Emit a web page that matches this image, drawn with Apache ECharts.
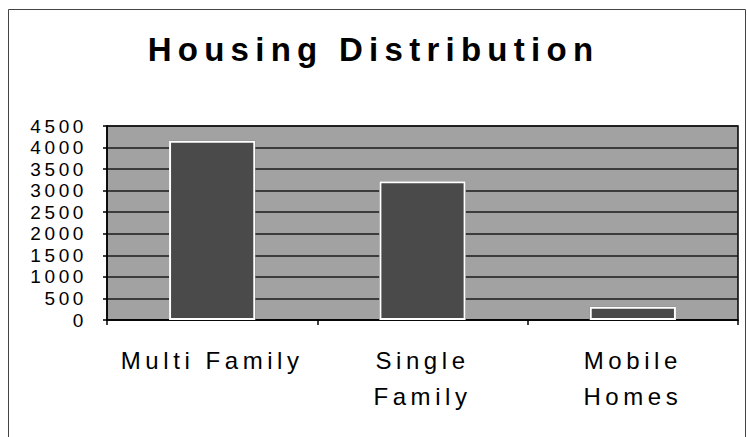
<!DOCTYPE html>
<html>
<head>
<meta charset="utf-8">
<script src="https://cdn.jsdelivr.net/npm/echarts@6/dist/echarts.min.js"></script>
<style>
  html, body { margin: 0; padding: 0; background: #fff; }
  #chart { width: 747px; height: 437px; }
  /* the source chart uses widely spaced lettering everywhere */
  #chart text { letter-spacing: 0.19em; }
</style>
</head>
<body>
<div id="chart"></div>
<script>
const categories = ["Multi Family", "Single\nFamily", "Mobile\nHomes"];
const housingCounts = [4160, 3220, 310];
const yTicks = { min: 0, max: 4500, interval: 500 };

const fontFamily = "'Liberation Sans', Arial, sans-serif";

const chart = echarts.init(document.getElementById("chart"), null, { renderer: "svg" });

chart.setOption({
  backgroundColor: "#ffffff",
  animation: false,
  title: {
    text: "Housing Distribution",
    left: "center",
    top: 28,
    textStyle: {
      fontFamily,
      fontSize: 33,
      fontWeight: "bold",
      color: "#000",
    },
  },
  graphic: [
    {
      type: "rect",
      shape: { x: 8.5, y: 9.5, width: 737, height: 440 },
      style: { fill: "none", stroke: "#444", lineWidth: 1 },
      silent: true,
    },
  ],
  grid: {
    left: 107,
    right: 9,
    top: 126,
    bottom: 117,
    show: true,
    backgroundColor: "#a2a2a2",
    borderColor: "#000",
    borderWidth: 1.5,
  },
  xAxis: {
    type: "category",
    data: categories,
    axisLine: { lineStyle: { color: "#000", width: 1.5 } },
    axisTick: { show: true, length: 5, alignWithLabel: false, lineStyle: { color: "#000", width: 1.5 } },
    axisLabel: {
      interval: 0,
      margin: 22,
      fontFamily,
      fontSize: 24,
      lineHeight: 36,
      color: "#000",
    },
    splitLine: { show: false },
  },
  yAxis: {
    type: "value",
    min: yTicks.min,
    max: yTicks.max,
    interval: yTicks.interval,
    axisLine: { show: true, lineStyle: { color: "#000", width: 1.5 } },
    axisTick: { show: true, length: 4, lineStyle: { color: "#000", width: 1.5 } },
    axisLabel: {
      margin: 20,
      fontFamily,
      fontSize: 19,
      color: "#000",
      formatter: (value) => String(value),
    },
    splitLine: { show: true, lineStyle: { color: "#1a1a1a", width: 1.5 } },
  },
  series: [
    {
      // black outer frame of each bar
      type: "bar",
      data: housingCounts,
      barCategoryGap: "59%",
      barGap: "-100%",
      itemStyle: { color: "#000", borderColor: "#000", borderWidth: 6 },
      silent: true,
    },
    {
      type: "bar",
      name: "Housing",
      data: housingCounts,
      barCategoryGap: "59%",
      barGap: "-100%",
      itemStyle: { color: "#4a4a4a", borderColor: "#ffffff", borderWidth: 2 },
    },
  ],
});
</script>
</body>
</html>
